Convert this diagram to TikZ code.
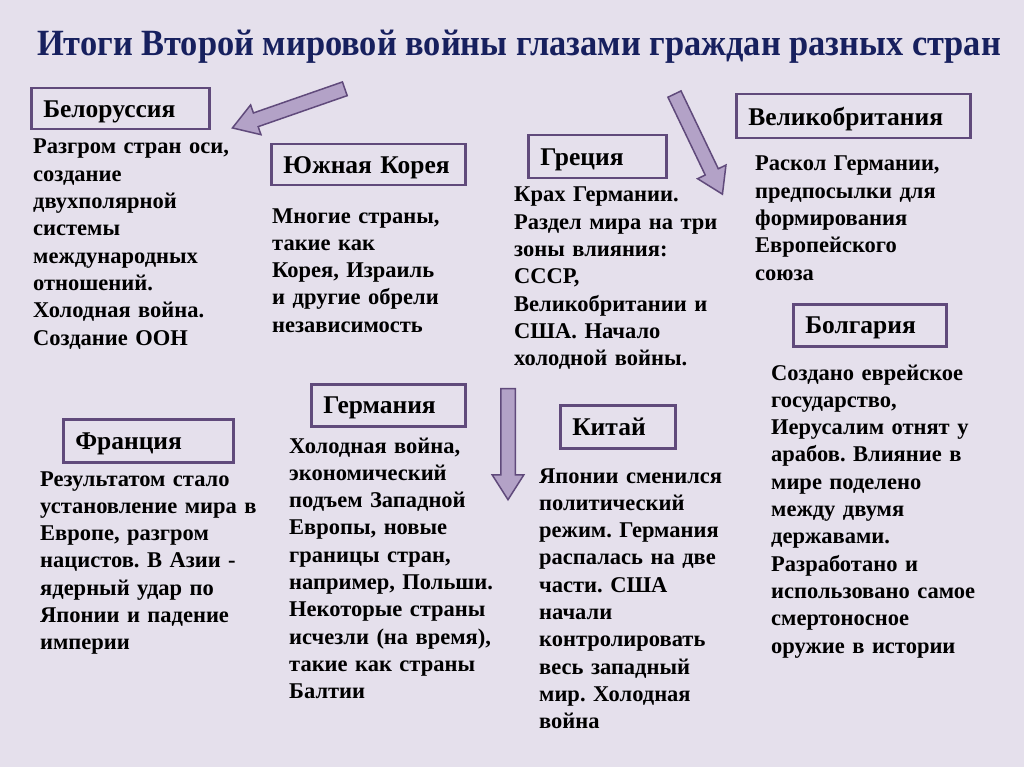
\documentclass[tikz,border=0pt]{standalone}
\usepackage{fontspec}
\setmainfont{Liberation Serif}
\newfontfamily\titlefont[FakeStretch=0.93]{Liberation Serif}
\usetikzlibrary{shapes.arrows,positioning}
\definecolor{slidebg}{HTML}{E5E0EC}
\definecolor{boxline}{HTML}{604A7B}
\definecolor{arrowfill}{HTML}{B3A2C7}
\definecolor{titleblue}{HTML}{17205E}
\frenchspacing

\begin{document}
\begin{tikzpicture}[x=1pt,y=-1pt,
  hdr/.style={draw=boxline, line width=2.5pt, anchor=north west,
              inner xsep=12pt, inner ysep=0pt, align=left, text depth=0pt,
              font=\fontsize{25.5}{28}\selectfont\bfseries},
  txt/.style={anchor=base west, inner sep=0pt, align=left, text width=260pt,
              font=\fontsize{22.5}{27.3}\selectfont\bfseries},
  blk/.style={single arrow, draw=boxline, fill=arrowfill, line width=1.5pt,
              inner xsep=0pt, inner ysep=6.5pt, single arrow head extend=8.5pt,
              single arrow tip angle=65}
]
  \useasboundingbox (0,0) rectangle (1024,767);
  \fill[slidebg] (0,0) rectangle (1024,767);

  \node[anchor=base, text=titleblue,
        font=\titlefont\fontsize{37}{40}\selectfont\bfseries] (title) at (519,56)
    {Итоги Второй мировой войны глазами граждан разных стран};

  % country headers
  \node[hdr, minimum width=178pt, minimum height=41pt, text width=154pt] (belarus) at (30,87) {Белоруссия};
  \node[hdr, minimum width=194pt, minimum height=41pt, text width=170pt] (korea)   at (270,143) {Южная Корея};
  \node[hdr, minimum width=138pt, minimum height=43pt, text width=114pt] (greece)  at (527,134) {Греция};
  \node[hdr, minimum width=234pt, minimum height=44pt, text width=210pt] (britain) at (735,93) {Великобритания};
  \node[hdr, minimum width=153pt, minimum height=42pt, text width=129pt] (bulgaria) at (792,303) {Болгария};
  \node[hdr, minimum width=154pt, minimum height=42pt, text width=130pt] (germany) at (310,383) {Германия};
  \node[hdr, minimum width=170pt, minimum height=43pt, text width=146pt] (france)  at (62,418) {Франция};
  \node[hdr, minimum width=115pt, minimum height=43pt, text width=91pt]  (china)   at (559,404) {Китай};

  % answers
  \node[txt] (belarustxt) at (33,154) {Разгром стран оси,\\создание\\двухполярной\\системы\\международных\\отношений.\\Холодная война.\\Создание ООН};
  \node[txt] (koreatxt) at (272,223) {Многие страны,\\такие как\\Корея, Израиль\\и другие обрели\\независимость};
  \node[txt] (greecetxt) at (514,202) {Крах Германии.\\Раздел мира на три\\зоны влияния:\\СССР,\\Великобритании и\\США. Начало\\холодной войны.};
  \node[txt] (britaintxt) at (755,171) {Раскол Германии,\\предпосылки для\\формирования\\Европейского\\союза};
  \node[txt] (bulgariatxt) at (771,380) {Создано еврейское\\государство,\\Иерусалим отнят у\\арабов. Влияние в\\мире поделено\\между двумя\\державами.\\Разработано и\\использовано самое\\смертоносное\\оружие в истории};
  \node[txt] (germanytxt) at (289,453) {Холодная война,\\экономический\\подъем Западной\\Европы, новые\\границы стран,\\например, Польши.\\Некоторые страны\\исчезли (на время),\\такие как страны\\Балтии};
  \node[txt] (francetxt) at (40,486) {Результатом стало\\установление мира в\\Европе, разгром\\нацистов. В Азии -\\ядерный удар по\\Японии и падение\\империи};
  \node[txt] (chinatxt) at (539,483) {Японии сменился\\политический\\режим. Германия\\распалась на две\\части. США\\начали\\контролировать\\весь западный\\мир. Холодная\\война};

  % block arrows
  \node[blk, minimum height=119pt, rotate=199.2] (arrleft) at (294,106.5) {};
  \node[blk, minimum height=111pt, rotate=-64.4] (arrright) at (696,139) {};
  \node[blk, minimum height=111pt, rotate=-90] (arrdown) at (508,438.5) {};

\end{tikzpicture}
\end{document}
